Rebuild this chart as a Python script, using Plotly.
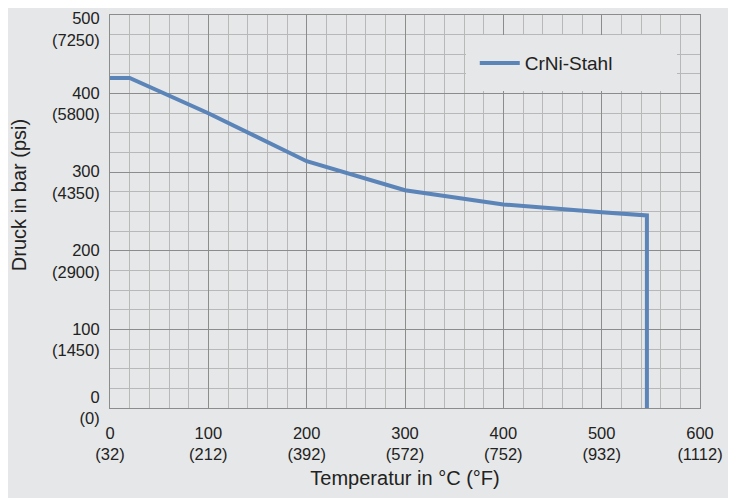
import plotly.graph_objects as go

# Data
temp_c = [0, 20, 100, 200, 300, 400, 500, 546, 546]
pressure_bar = [420, 420, 375, 314, 277, 259, 249, 245, 0]
series_name = "CrNi-Stahl"

x_tick_vals = [0, 100, 200, 300, 400, 500, 600]
x_tick_text = ["0<br>(32)", "100<br>(212)", "200<br>(392)", "300<br>(572)",
               "400<br>(752)", "500<br>(932)", "600<br>(1112)"]
y_tick_vals = [0, 100, 200, 300, 400, 500]
y_tick_text = ["0<br>(0)", "100<br>(1450)", "200<br>(2900)", "300<br>(4350)",
               "400<br>(5800)", "500<br>(7250)"]

BG = "#e6e7e8"
LINE = "#5b84b8"
MAJOR = "#8c8c8c"
MINOR = "#b8b8b8"
FONT = "Liberation Sans, Arial, sans-serif"

fig = go.Figure()
fig.add_trace(go.Scatter(x=temp_c, y=pressure_bar, mode="lines", name=series_name,
                         line=dict(color=LINE, width=4), showlegend=True))
# overlay axis that only carries the y tick labels (first line aligned to tick)
label_pos = [min(v - 13, 482) if v > 0 else v for v in y_tick_vals]
fig.add_trace(go.Scatter(x=[None], y=[None], yaxis="y2", showlegend=False, hoverinfo="skip"))

fig.update_layout(
    width=736, height=498,
    paper_bgcolor=BG, plot_bgcolor=BG,
    margin=dict(l=102, r=44, t=7, b=98, autoexpand=False),
    font=dict(family=FONT, size=16, color="#222222"),
    xaxis=dict(range=[0, 600], tickvals=x_tick_vals, ticktext=x_tick_text,
               automargin=False, ticklabeloverflow="allow",
               showgrid=True, gridcolor=MAJOR, gridwidth=1,
               minor=dict(dtick=20, showgrid=True, gridcolor=MINOR, gridwidth=1),
               showline=True, linecolor=MAJOR, mirror=True, zeroline=False,
               ticks="outside", ticklen=10, tickcolor="rgba(0,0,0,0)",
               title=dict(text="Temperatur in °C (°F)", font=dict(size=20), standoff=8),
               tickfont=dict(size=16.5)),
    yaxis=dict(range=[0, 500], tickvals=y_tick_vals, showticklabels=False,
               automargin=False,
               showgrid=True, gridcolor=MAJOR, gridwidth=1,
               minor=dict(dtick=25, showgrid=True, gridcolor=MINOR, gridwidth=1),
               showline=True, linecolor=MAJOR, mirror=True, zeroline=False),
    yaxis2=dict(range=[0, 500], overlaying="y", side="left", tickvals=label_pos,
                ticktext=y_tick_text, showgrid=False, zeroline=False, showline=False,
                automargin=False, ticklabeloverflow="allow",
                ticks="outside", ticklen=6, tickcolor="rgba(0,0,0,0)",
                tickfont=dict(size=16.5)),
    legend=dict(x=0.603, y=0.949, xanchor="left", yanchor="top",
                orientation="h", entrywidth=138, entrywidthmode="pixels",
                bgcolor=BG, bordercolor=BG, borderwidth=9, font=dict(size=19),
                itemwidth=40, tracegroupgap=0),
    annotations=[dict(text="Druck in bar (psi)", textangle=-90, xref="paper", yref="paper",
                      x=-0.154, y=0.542, xanchor="center", yanchor="middle",
                      showarrow=False, font=dict(size=20))],
)

fig.write_html("out.html")
